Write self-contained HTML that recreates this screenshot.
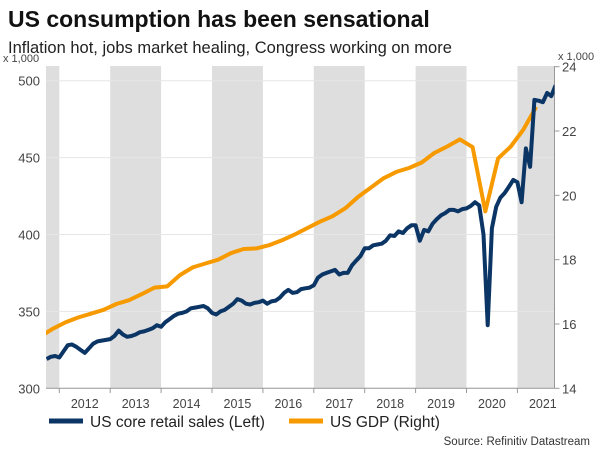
<!DOCTYPE html>
<html><head><meta charset="utf-8"><style>
body{margin:0;background:#fff;font-family:"Liberation Sans",sans-serif;}
svg text{font-family:"Liberation Sans",sans-serif;}
</style></head><body>
<svg id="chart" width="600" height="450" viewBox="0 0 600 450">
<text x="8" y="27" font-size="23" font-weight="bold" fill="#111">US consumption has been sensational</text>
<text x="8" y="53" font-size="16.5" fill="#222">Inflation hot, jobs market healing, Congress working on more</text>
<text x="3" y="62" font-size="11" fill="#444">x 1,000</text>
<text x="558" y="60" font-size="11" fill="#444">x 1,000</text>
<g id="bands"></g><g id="grid"></g><g id="axes"></g>
<defs><clipPath id="pc"><rect x="46" y="60" width="508.5" height="330"/></clipPath></defs>
<g id="series" clip-path="url(#pc)"></g>
<line x1="49" y1="421" x2="83" y2="421" stroke="#0b3565" stroke-width="5"/>
<text x="90" y="427" font-size="15.5" fill="#222">US core retail sales (Left)</text>
<line x1="289" y1="421" x2="323" y2="421" stroke="#f79a00" stroke-width="5"/>
<text x="330" y="427" font-size="15.5" fill="#222">US GDP (Right)</text>
<text x="590" y="445" font-size="11.5" fill="#333" text-anchor="end">Source: Refinitiv Datastream</text>
</svg>
<script>
const years=[2012,2013,2014,2015,2016,2017,2018,2019,2020,2021];
const leftTicks=[300,350,400,450,500];
const rightTicks=[14,16,18,20,22,24];
const retailStart=2011.75;
const retail=[319,320.5,321,320,324,328,328.5,327,325,323,326,329,330.5,331,331.5,332,334,337.5,335,333.5,334,335,336.5,337,338,339,341,340,343,345,347,348.5,349,350,352,352.5,353,353.5,352,349,348,350,351,353,355,358,357,355,354.5,355.5,356,357,355,356.5,357,359,362,364,362,362.5,364.5,365,365.5,367,372,374,375,376,377,374,375,375,380,383,386,391,391,393,393.5,394,396,399.5,399,402,401,404,406,406,396,403,402,407,410,412.5,414,416,416,415,416.5,417,418.5,421,419,400,341,404,418,424,427,431,435.5,434,421,456,444,487.5,487,486,492,490,497];
const gdpStart=2011.62;
const gdp=[15.6,15.85,16.05,16.2,16.32,16.44,16.62,16.74,16.93,17.13,17.17,17.52,17.76,17.88,18.0,18.2,18.33,18.35,18.45,18.6,18.78,18.98,19.18,19.35,19.6,19.95,20.24,20.53,20.73,20.85,21.02,21.32,21.52,21.74,21.5,19.5,21.15,21.52,22.05,22.75];
const NS='http://www.w3.org/2000/svg';
const X0=46,X1=554.5;
function xT(t){return 59.3+(t-2012)*50.9;}
function yL(v){return 388.3-(v-300)*1.538;}
function yR(v){return 388.3-(v-14)*32.16;}
function mk(tag,attrs,parent){const e=document.createElementNS(NS,tag);for(const k in attrs)e.setAttribute(k,attrs[k]);document.getElementById(parent).appendChild(e);return e;}
const bandYears=[2011,2013,2015,2017,2019,2021];
bandYears.forEach(y=>{const a=Math.max(X0,xT(y)),b=Math.min(X1,xT(y+1));
const r=mk('rect',{x:a,y:66,width:b-a,height:322.3,fill:'#dedede'},'bands');

});
leftTicks.forEach(v=>{
const l=mk('line',{x1:X0,x2:X1,y1:yL(v),y2:yL(v),stroke:'#e6e6e6','stroke-width':1},'grid');


const t=mk('text',{x:40,y:yL(v)+5,'font-size':13,fill:'#444','text-anchor':'end'},'axes');
t.textContent=v;

});
rightTicks.forEach(v=>{
const l=mk('line',{x1:X1,x2:X1+5,y1:yR(v),y2:yR(v),stroke:'#999'},'axes');


const t=mk('text',{x:562,y:yR(v)+5,'font-size':13,fill:'#444'},'axes');
t.textContent=v;

});
const ax=mk('line',{x1:X0,x2:X1,y1:388.3,y2:388.3,stroke:'#999'},'axes');


const ra=mk('line',{x1:X1,x2:X1,y1:66,y2:388.3,stroke:'#999'},'axes');


years.forEach(y=>{
const tk=mk('line',{x1:xT(y),x2:xT(y),y1:388.3,y2:393,stroke:'#999'},'axes');


const t=mk('text',{x:xT(y+0.5),y:408,'font-size':12.5,fill:'#444','text-anchor':'middle'},'axes');
t.textContent=y;

});
const gp=gdp.map((v,i)=>xT(gdpStart+i/4).toFixed(1)+','+yR(v).toFixed(1)).join(' ');
const g=mk('polyline',{points:gp,fill:'none',stroke:'#f79a00','stroke-width':4,'stroke-linejoin':'round'},'series');


const rp=retail.map((v,i)=>xT(retailStart+i/12).toFixed(1)+','+yL(v).toFixed(1)).join(' ');
const r=mk('polyline',{points:rp,fill:'none',stroke:'#0b3565','stroke-width':4,'stroke-linejoin':'round'},'series');


</script>
</body></html>
